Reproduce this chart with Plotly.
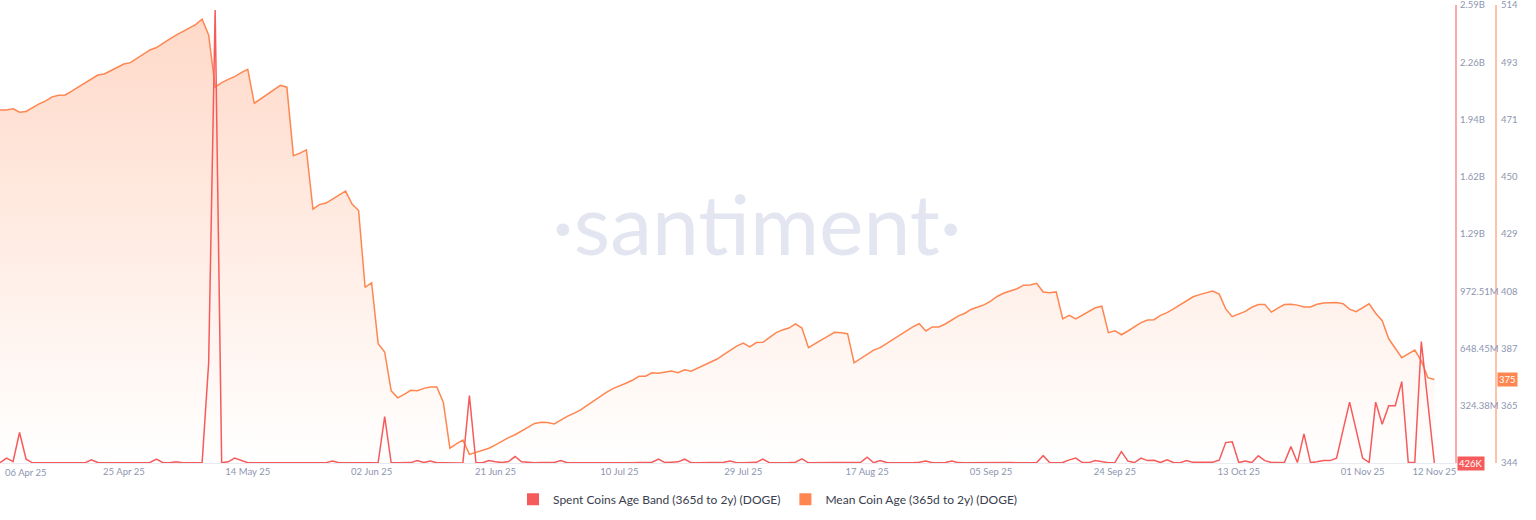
import pandas as pd
import plotly.graph_objects as go

# ---------------- data ----------------
start_date = "2025-04-06"

mean_coin_age = [
    475.0, 475.0, 475.5, 474.2, 474.5, 476.0, 477.3, 478.4, 479.9, 480.5,
    480.6, 482.0, 483.5, 485.1, 486.5, 488.0, 488.4, 489.6, 490.7, 492.1,
    492.6, 494.1, 495.7, 497.3, 498.2, 499.6, 501.3, 502.8, 504.1, 505.6,
    506.7, 508.7, 502.9, 483.5, 485.2, 486.4, 487.4, 488.9, 490.1, 477.5,
    479.1, 480.9, 482.5, 484.2, 483.5, 458.1, 459.0, 460.2, 438.2, 439.9,
    440.5, 441.9, 443.4, 444.9, 440.1, 437.7, 409.2, 410.9, 388.3, 385.2,
    370.8, 368.2, 369.5, 371.0, 370.8, 371.7, 372.2, 372.2, 366.5, 349.5,
    351.1, 352.5, 347.2, 348.0, 348.9, 349.5, 350.7, 352.2, 353.4, 354.5,
    356.0, 357.5, 358.7, 359.1, 359.0, 358.5, 360.0, 361.3, 362.4, 363.6,
    365.3, 367.0, 368.6, 370.2, 371.6, 372.5, 373.6, 374.7, 376.2, 376.2,
    377.5, 377.3, 377.8, 378.1, 377.5, 378.6, 378.1, 379.3, 380.3, 381.4,
    382.6, 384.2, 385.9, 387.4, 388.5, 387.1, 388.7, 388.8, 390.5, 392.3,
    393.4, 394.1, 395.6, 394.1, 386.8, 388.4, 389.7, 391.1, 392.5, 392.3,
    392.0, 381.2, 382.7, 384.3, 385.9, 386.8, 388.4, 389.9, 391.4, 393.0,
    394.5, 395.7, 393.0, 394.5, 394.5, 395.6, 397.0, 398.6, 399.6, 401.1,
    401.9, 402.8, 404.2, 405.9, 407.1, 407.8, 408.7, 410.0, 410.1, 410.7,
    407.5, 407.2, 407.5, 397.5, 398.8, 397.5, 398.8, 400.3, 401.6, 402.2,
    392.4, 393.1, 391.6, 393.0, 394.6, 396.1, 397.1, 397.2, 398.8, 399.8,
    401.2, 402.8, 404.2, 405.7, 406.5, 407.2, 407.8, 406.7, 401.2, 398.3,
    399.3, 400.3, 401.8, 402.8, 402.8, 400.0, 401.5, 402.8, 402.9, 402.6,
    401.9, 401.9, 402.9, 403.4, 403.5, 403.6, 403.1, 401.1, 400.2, 401.6,
    403.1, 399.6, 396.8, 390.1, 386.7, 383.1, 384.5, 385.9, 381.9, 375.7,
    375.0,
]

# Spent Coins Age Band, in millions of DOGE
spent_coins_m = [
    2, 28, 8, 173, 22, 1.5, 1.2, 1.8, 1.4, 2.5,
    1.6, 3.0, 1.8, 1.3, 18, 3, 2.2, 1.9, 1.4, 2.6,
    1.7, 1.2, 2.1, 3.4, 22, 2.0, 1.5, 7, 1.8, 1.1,
    1.6, 1.3, 565, 2565, 1.4, 7, 28, 14, 2.0, 1.6,
    1.9, 1.4, 2.8, 1.7, 3.5, 2.2, 1.6, 2.9, 1.5, 1.8,
    2.4, 12, 2.0, 1.5, 3.1, 1.7, 1.3, 2.2, 3, 263,
    1.5, 1.9, 1.2, 2.7, 14, 3, 11, 1.8, 2.3, 1.4,
    1.9, 1.1, 382, 3, 1.6, 14, 7, 3, 9, 37,
    7, 2.1, 1.5, 2.6, 1.8, 3.2, 14, 1.7, 2.4, 1.4,
    2.0, 3.3, 1.6, 2.2, 1.3, 2.8, 1.9, 2.5, 3.6, 2.1,
    4.5, 22, 3, 5, 7, 22, 2.0, 1.5, 2.6, 1.8,
    3.2, 4.4, 12, 2.4, 1.6, 2.9, 4.0, 22, 1.8, 2.3,
    1.5, 2.7, 5, 24, 1.7, 2.0, 1.3, 3, 2.5, 1.9,
    5, 3.4, 4.2, 33, 2.0, 14, 3.1, 2.2, 1.6, 2.8,
    1.9, 4.6, 11, 2.3, 1.7, 3.5, 11, 2.6, 1.8, 2.4,
    1.5, 3.0, 2.1, 1.7, 2.9, 3.8, 2.2, 1.6, 2.5, 3.3,
    42, 3, 2.4, 3, 18, 28, 3, 2.6, 14, 7,
    2.2, 3, 65, 11, 3, 28, 14, 16, 3, 18,
    3, 2.4, 14, 4, 4, 5, 5, 16, 116, 120,
    3, 11, 3, 41, 14, 3, 2.5, 3, 93, 3,
    165, 3, 7, 14, 14, 28, 188, 345, 188, 28,
    3, 345, 220, 325, 325, 461, 3, 3, 688, 346,
    0.426,
]

x_tick_dates = ["2025-04-25", "2025-05-14", "2025-06-02", "2025-06-21", "2025-07-10",
                "2025-07-29", "2025-08-17", "2025-09-05", "2025-09-24", "2025-10-13",
                "2025-11-01", "2025-11-12"]
first_tick_label = "06 Apr 25"

spent_ticks_m = [0.426, 324.38, 648.45, 972.51, 1296.6, 1620.6, 1944.6, 2268.7, 2592.7]
# bottom label (426K) is shown by the last-value badge
spent_tick_text = ["", "324.38M", "648.45M", "972.51M", "1.29B", "1.62B", "1.94B", "2.26B", "2.59B"]

age_ticks = [344, 365.25, 386.5, 407.75, 429, 450.25, 471.5, 492.75, 514]
age_tick_text = ["344", "365", "387", "408", "429", "450", "471", "493", "514"]

name_spent = "Spent Coins Age Band (365d to 2y) (DOGE)"
name_age = "Mean Coin Age (365d to 2y) (DOGE)"

# ---------------- style ----------------
RED = "#f65b5b"
ORANGE = "#ff8650"
TICK = "#8e95b0"
FONT = "Lato, 'Open Sans', sans-serif"

dates = pd.date_range(start_date, periods=len(mean_coin_age), freq="D")

fig = go.Figure()

fig.add_trace(go.Scatter(
    x=dates, y=mean_coin_age, yaxis="y", mode="lines", name=name_age,
    line=dict(color=ORANGE, width=1.5),
    fill="tozeroy",
    fillgradient=dict(type="vertical", start=age_ticks[0], stop=age_ticks[-1],
                      colorscale=[[0, "rgba(255,134,80,0.0)"], [1, "rgba(255,134,80,0.32)"]]),
    showlegend=False, hoverinfo="skip",
))

fig.add_trace(go.Scatter(
    x=dates, y=spent_coins_m, yaxis="y2", mode="lines", name=name_spent,
    line=dict(color=RED, width=1.5),
    showlegend=False, hoverinfo="skip",
))

# legend entries (square swatches)
fig.add_trace(go.Scatter(x=[None], y=[None], mode="markers", name=name_spent,
                         marker=dict(symbol="square", size=8, color=RED), yaxis="y2"))
fig.add_trace(go.Scatter(x=[None], y=[None], mode="markers", name=name_age,
                         marker=dict(symbol="square", size=8, color=ORANGE), yaxis="y"))

W, H = 1536, 520
plot_right = 1455 / W
age_axis_pos = 1496 / W

fig.update_layout(
    width=W, height=H,
    margin=dict(l=0, r=0, t=5, b=57, autoexpand=False),
    paper_bgcolor="white", plot_bgcolor="white",
    font=dict(family=FONT, color=TICK, size=10),
    xaxis=dict(
        domain=[0, plot_right], automargin=False,
        range=[dates[0], pd.Timestamp("2025-11-15 04:00")],
        tickvals=pd.to_datetime(x_tick_dates), tickformat="%d %b %y",
        showgrid=False, zeroline=False, showline=True, linecolor="#e9ebf1", linewidth=1,
        ticks="", tickfont=dict(size=9.5, color=TICK), ticklabeloverflow="allow",
    ),
    yaxis=dict(
        range=[age_ticks[0], age_ticks[-1]], anchor="free", position=age_axis_pos, side="right",
        tickvals=age_ticks, ticktext=age_tick_text, automargin=False,
        showgrid=False, zeroline=False, showline=True, linecolor="#ffc2a8", linewidth=2,
        ticks="", ticklabelstandoff=2, tickfont=dict(size=9.5, color=TICK),
        ticklabeloverflow="allow",
    ),
    yaxis2=dict(
        range=[spent_ticks_m[0], spent_ticks_m[-1]], overlaying="y", anchor="x", side="right",
        tickvals=spent_ticks_m, ticktext=spent_tick_text, automargin=False,
        showgrid=False, zeroline=False, showline=True, linecolor="#ffaaaa", linewidth=2,
        ticks="", ticklabelstandoff=1, tickfont=dict(size=9.5, color=TICK),
        ticklabeloverflow="allow",
    ),
    legend=dict(orientation="h", x=0.5, xanchor="center", y=-0.079, yanchor="middle",
                font=dict(size=12, color="#3a3d4d", family=FONT),
                itemsizing="constant", itemwidth=30, tracegroupgap=0),
    showlegend=True,
)

annotations = [
    # watermark
    dict(text="·santiment·", xref="paper", yref="paper", x=757 / W, y=(463 - 222) / 458,
         showarrow=False, font=dict(family=FONT, size=84, color="#e3e6f0", weight=400),
         xanchor="center", yanchor="middle"),
    # first x tick label (clamped to left edge)
    dict(text=first_tick_label, xref="x", yref="paper", x=dates[0], y=0,
         xanchor="left", yanchor="top", xshift=3, yshift=-2, showarrow=False,
         font=dict(size=9.5, color=TICK, family=FONT)),
    # last value badges
    dict(text=f"{spent_coins_m[-1] * 1000:.0f}K", xref="paper", yref="y2",
         x=plot_right, y=spent_coins_m[-1], xanchor="left", yanchor="middle", xshift=2,
         showarrow=False, bgcolor=RED, borderpad=1,
         font=dict(size=9.5, color="white", family=FONT)),
    dict(text=f"{mean_coin_age[-1]:.0f}", xref="paper", yref="y",
         x=age_axis_pos, y=mean_coin_age[-1], xanchor="left", yanchor="middle", xshift=1,
         showarrow=False, bgcolor=ORANGE, borderpad=1,
         font=dict(size=9.5, color="white", family=FONT)),
]
fig.update_layout(annotations=annotations)

fig.write_html("out.html",
               config={"displayModeBar": False},
               post_script="document.body.style.margin='0';document.body.style.overflow='hidden';")
